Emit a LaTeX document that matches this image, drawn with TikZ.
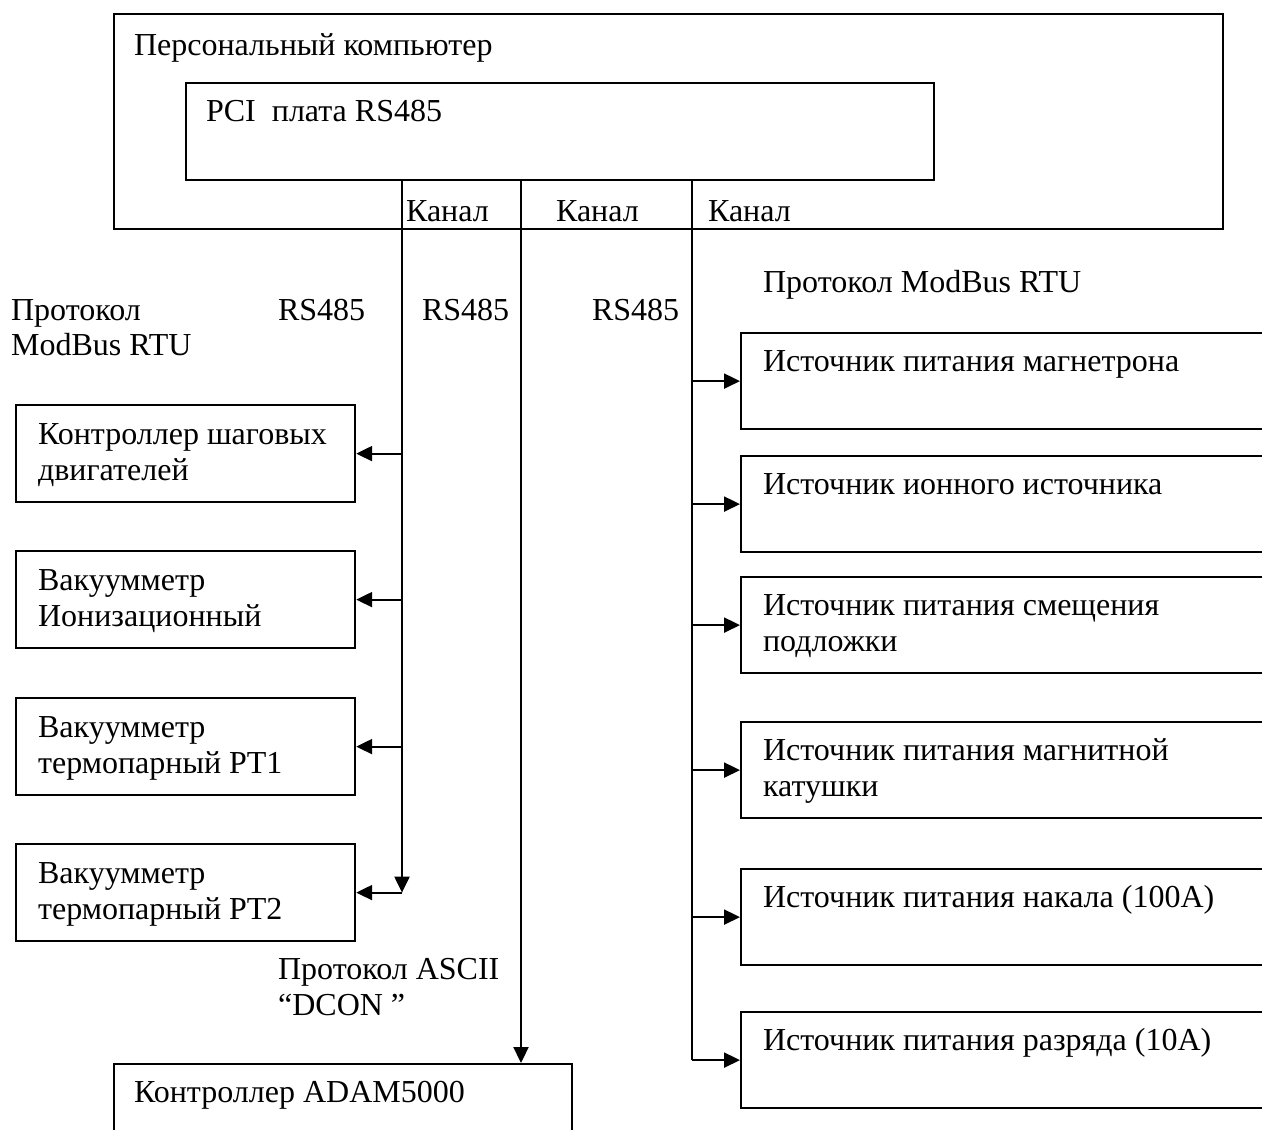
\documentclass[tikz,border=0pt]{standalone}
\usepackage{fontspec}
\setmainfont{Liberation Serif}
\usetikzlibrary{positioning, arrows.meta}

\begin{document}
\begin{tikzpicture}[x=0.5pt, y=-0.5pt, line width=1.1pt, font=\fontsize{16pt}{18pt}\selectfont]

    % Styles
    \tikzstyle{box} = [draw=black, line width=1.1pt, rectangle, anchor=north west, inner sep=0pt, minimum width=169.5pt, minimum height=48.5pt]
    \tikzstyle{src} = [box, minimum width=280pt, minimum height=48pt]
    \tikzstyle{txt} = [anchor=base west, inner sep=0pt, align=left]
    \tikzstyle{arr} = [-{Triangle[length=8pt, width=7.5pt]}]

    \clip (0,0) rectangle (1262,1129);

    % --- PC WITH PCI BOARD ---
    \node[box, minimum width=554.5pt, minimum height=107.5pt] (pc) at (113,13) {};
    \node[txt] (tPC) at (133,56) {Персональный компьютер};
    \node[box, minimum width=374pt, minimum height=48.5pt] (pci) at (185,82) {};
    \node[txt] (tPCI) at (205,121) {PCI\ \ плата RS485};

    % Channels
    \coordinate (ch1) at (402,179);
    \coordinate (ch2) at (521,179);
    \coordinate (ch3) at (692,179);
    \node[txt] (kan1) at (405,221) {Канал};
    \node[txt] (kan2) at (555,221) {Канал};
    \node[txt] (kan3) at (707,221) {Канал};

    % Protocol labels
    \node[txt] (protL) at (10,320) {Протокол};
    \node[txt] (modL) at (10,355) {ModBus RTU};
    \node[txt] (rs1) at (277,320) {RS485};
    \node[txt] (rs2) at (421,320) {RS485};
    \node[txt] (rs3) at (591,320) {RS485};
    \node[txt] (protR) at (762,292) {Протокол ModBus RTU};
    \node[txt] (protA) at (277,1015) {Протокол ASCII\\“DCON ”};

    % --- LEFT: MODBUS DEVICES ---
    \node[box] (shd) at (15,404) {};
    \node[txt] at (37,480) {Контроллер шаговых\\двигателей};
    \node[box] (ion) at (15,550) {};
    \node[txt] at (37,626) {Вакуумметр\\Ионизационный};
    \node[box] (pt1) at (15,697) {};
    \node[txt] at (37,773) {Вакуумметр\\термопарный PT1};
    \node[box] (pt2) at (15,843) {};
    \node[txt] at (37,919) {Вакуумметр\\термопарный PT2};

    \draw[arr] (ch1) -- (ch1 |- pt2.east);
    \foreach \b in {shd, ion, pt1, pt2}
        \draw[arr] (ch1 |- \b.east) -- (\b.east);

    % --- MIDDLE: ADAM5000 ---
    \node[box, minimum width=229pt, minimum height=75pt] (adam) at (113,1063) {};
    \node[txt] at (133,1102) {Контроллер ADAM5000};
    \draw[arr] (ch2) -- (ch2 |- adam.north);

    % --- RIGHT: POWER SUPPLIES ---
    \node[src] (mag) at (740,332) {};
    \node[txt] at (762,371) {Источник питания магнетрона};
    \node[src] (ion2) at (740,455) {};
    \node[txt] at (762,494) {Источник ионного источника};
    \node[src] (sme) at (740,576) {};
    \node[txt] at (762,651) {Источник питания смещения\\подложки};
    \node[src] (kat) at (740,721) {};
    \node[txt] at (762,796) {Источник питания магнитной\\катушки};
    \node[src] (nak) at (740,868) {};
    \node[txt] at (762,907) {Источник питания накала (100А)};
    \node[src] (raz) at (740,1011) {};
    \node[txt] at (762,1050) {Источник питания разряда (10А)};

    \draw (ch3) -- (ch3 |- raz.west);
    \foreach \b in {mag, ion2, sme, kat, nak, raz}
        \draw[arr] (ch3 |- \b.west) -- (\b.west);

\end{tikzpicture}
\end{document}
